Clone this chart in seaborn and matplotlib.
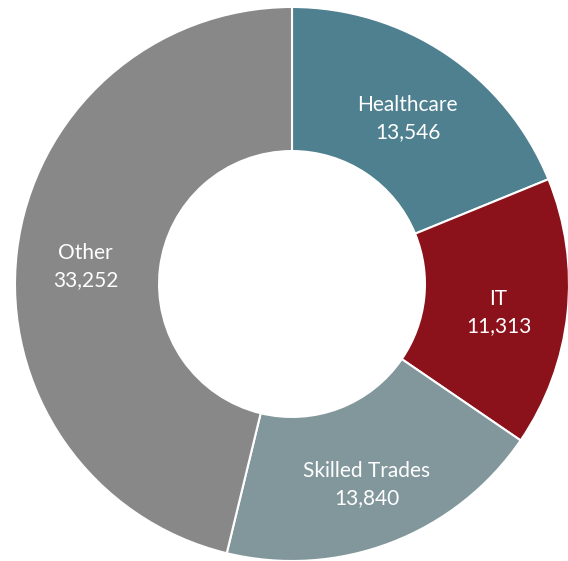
import seaborn as sns
import matplotlib.pyplot as plt

categorias = ['Healthcare', 'IT', 'Skilled Trades', 'Other']
valores = [13546, 11313, 13840, 33252]
cores = ['#4e8090', '#8b121b', '#82979c', '#888888']

sns.set_style('white')
plt.rcParams['font.family'] = ['Lato', 'DejaVu Sans']

fig = plt.figure(figsize=(5.68, 5.61), dpi=100)
ax = fig.add_axes([0, 0, 1, 1])

rotulos = [f'{c}\n{v:,}' for c, v in zip(categorias, valores)]
fatias, textos = ax.pie(valores, labels=rotulos, colors=cores, startangle=90, counterclock=False,
                        radius=1, labeldistance=0.75,
                        wedgeprops={'width': 0.52, 'edgecolor': 'white', 'linewidth': 1.5},
                        textprops={'color': 'white', 'fontsize': 15, 'linespacing': 1.45})
# centraliza os rotulos e desce um pouco
for t in textos:
    t.set_horizontalalignment('center')
    t.set_verticalalignment('center')
    x, y = t.get_position()
    t.set_position((x, y - 0.025))

ax.set_xlim(-292 / 277, 276 / 277)
ax.set_ylim(-277 / 277, 284 / 277)
ax.set_aspect('equal')
ax.axis('off')

plt.savefig('out.png', dpi=100)
